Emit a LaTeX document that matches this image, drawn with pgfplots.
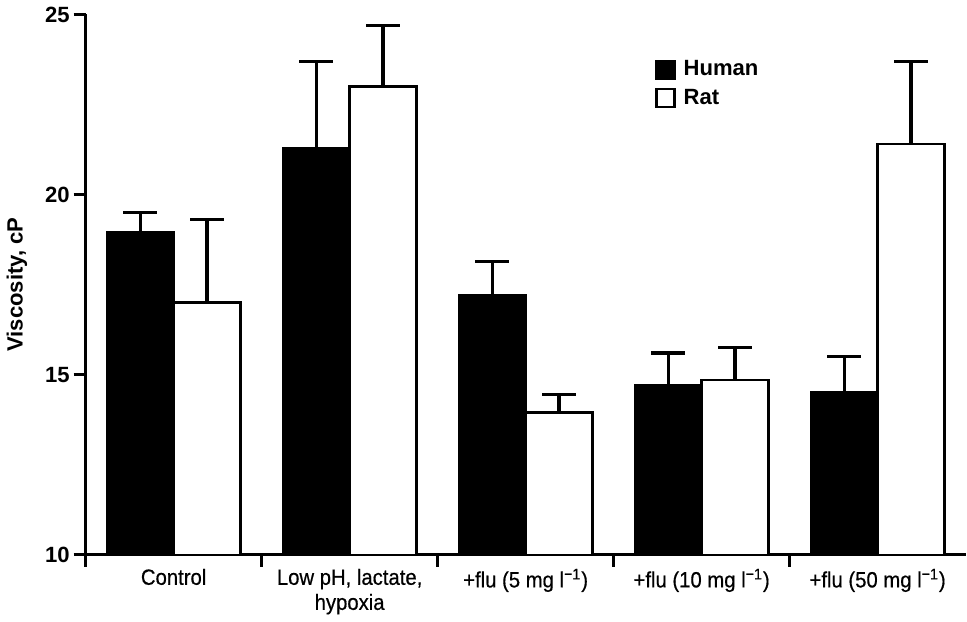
\documentclass[border=0pt]{standalone}
\usepackage{pgfplots}
\pgfplotsset{compat=1.18}
\usepackage{fontspec}
\setmainfont{Liberation Sans}
\newfontfamily\narrowfont[FakeStretch=0.92, FakeBold=0.5]{Liberation Sans}
\begin{document}
\begin{tikzpicture}
\begin{axis}[
  scale only axis,
  width=439pt, height=269.5pt,
  xmin=0.5, xmax=5.5,
  ymin=10, ymax=25,
  axis lines=left,
  axis line style={-, line width=1.4pt},
  ytick={10,15,20,25},
  yticklabel style={font=\fontsize{11}{13}\selectfont\bfseries, xshift=1.5pt},
  /pgf/number format/assume math mode=true,
  ylabel={\bfseries Viscosity, cP},
  ylabel style={font=\fontsize{11}{13}\selectfont, yshift=2pt},
  xtick={0.5,1.5,2.5,3.5,4.5},
  xticklabels={},
  extra x ticks={1,2,3,4,5},
  extra x tick labels={Control, {Low pH, lactate,\\hypoxia}, {+flu (5 mg l\textsuperscript{−1})}, {+flu (10 mg l\textsuperscript{−1})}, {+flu (50 mg l\textsuperscript{−1})}},
  extra x tick style={major tick length=0pt, xticklabel style={font=\narrowfont\fontsize{11}{12.5}\selectfont, align=center, yshift=-3.5pt}},
  x tick style={line width=1.4pt, black},
  y tick style={line width=1.4pt, black},
  major tick length=6pt,
  tick align=outside,
  ybar, bar width=0.38,
  legend style={draw=none, at={(0.64,0.93)}, anchor=north west, font=\fontsize{11}{13}\selectfont\bfseries, row sep=1pt},
  legend cell align=left,
  legend image code/.code={\draw[#1, line width=1.2pt] (0pt,-4.5pt) rectangle (9pt,4.5pt);},
  error bars/y dir=plus, error bars/y explicit,
  error bars/error bar style={line width=1.6pt, black},
  error bars/error mark options={rotate=90, mark size=8.5pt, line width=1.6pt, black},
]
\addplot[fill=black, draw=black, line width=1.2pt, bar shift=-0.19] coordinates {
  (1,18.95) +- (0,0.55)
  (2,21.3) +- (0,2.4)
  (3,17.2) +- (0,0.95)
  (4,14.7) +- (0,0.9)
  (5,14.5) +- (0,1.0)
};
\addplot[fill=white, draw=black, line width=1.2pt, bar shift=0.19] coordinates {
  (1,17.0) +- (0,2.3)
  (2,23.0) +- (0,1.7)
  (3,13.95) +- (0,0.5)
  (4,14.85) +- (0,0.9)
  (5,21.4) +- (0,2.3)
};
\legend{\hspace{2pt}Human, \hspace{2pt}Rat}
\end{axis}
\end{tikzpicture}
\end{document}
